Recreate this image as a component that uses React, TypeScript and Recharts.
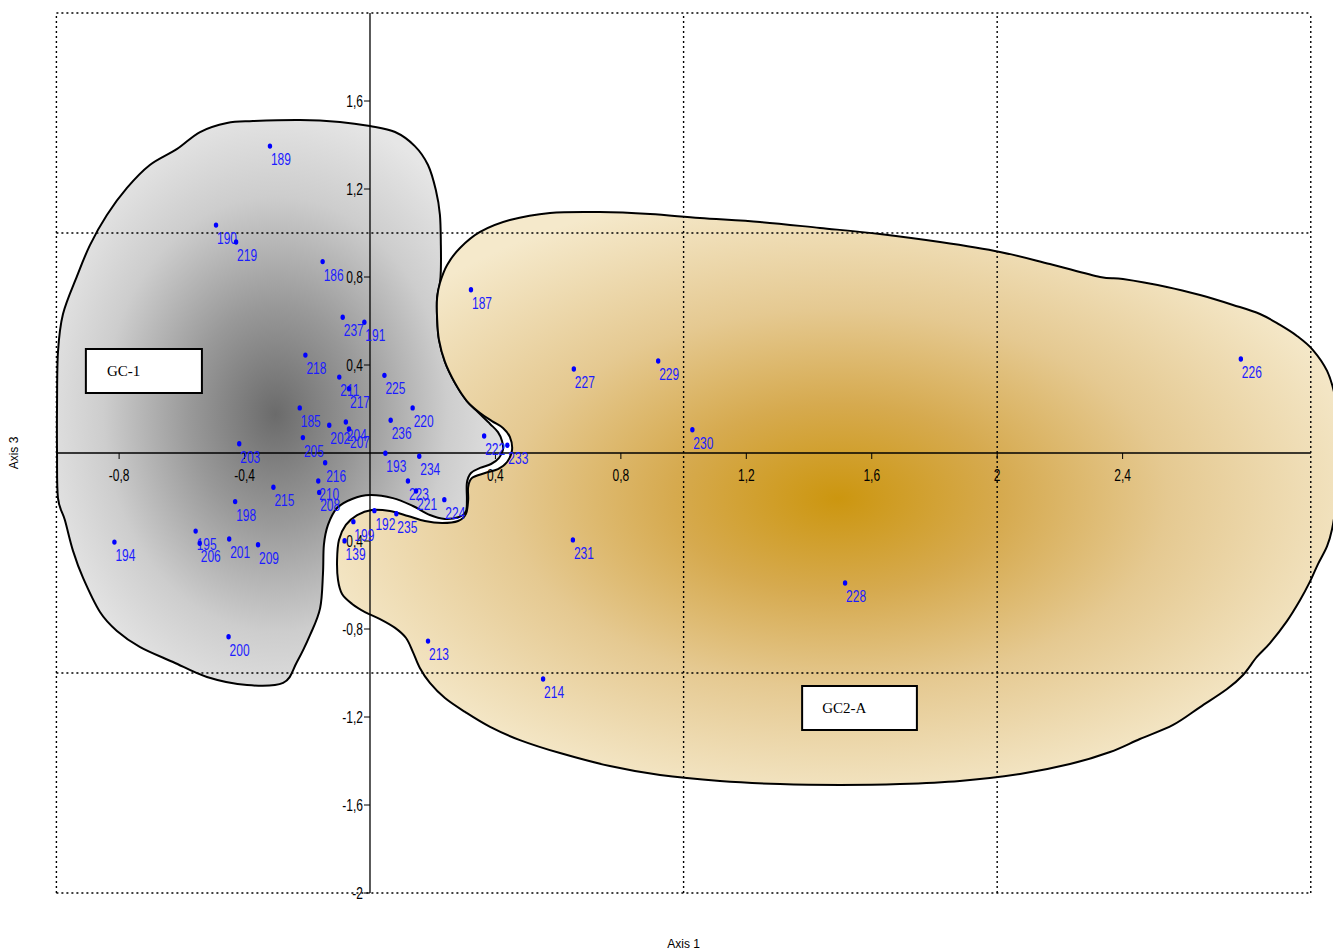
import { ScatterChart, Scatter, XAxis, YAxis, ReferenceLine, ReferenceArea, Label } from 'recharts';

// sample points (Axis 1 / Axis 3 scores)
const pointIds = ['189', '190', '219', '186', '187', '237', '191', '218', '211', '217', '225', '185', '220', '236', '202', '204', '207', '205', '203', '193', '234', '222', '233', '216', '210', '208', '215', '223', '221', '224', '198', '192', '235', '199', '195', '201', '139', '206', '194', '209', '231', '227', '229', '230', '226', '228', '213', '214', '200'];
const axis1 = [-0.319, -0.491, -0.427, -0.151, 0.322, -0.087, -0.018, -0.206, -0.098, -0.067, 0.046, -0.224, 0.136, 0.066, -0.13, -0.077, -0.067, -0.214, -0.417, 0.049, 0.157, 0.364, 0.438, -0.143, -0.165, -0.162, -0.308, 0.121, 0.147, 0.237, -0.43, 0.014, 0.084, -0.053, -0.556, -0.449, -0.081, -0.543, -0.815, -0.357, 0.647, 0.65, 0.919, 1.028, 2.777, 1.515, 0.185, 0.552, -0.451];
const axis3 = [1.395, 1.036, 0.959, 0.87, 0.742, 0.617, 0.594, 0.445, 0.345, 0.292, 0.353, 0.205, 0.205, 0.149, 0.126, 0.141, 0.109, 0.07, 0.042, -0.001, -0.015, 0.077, 0.035, -0.044, -0.127, -0.179, -0.156, -0.127, -0.173, -0.212, -0.221, -0.262, -0.276, -0.312, -0.355, -0.391, -0.399, -0.41, -0.405, -0.417, -0.395, 0.382, 0.418, 0.106, 0.427, -0.591, -0.855, -1.027, -0.835];

// group outlines
const gc1Axis1 = [-0.456, -0.373, -0.223, -0.096, 0, 0.08, 0.143, 0.185, 0.21, 0.223, 0.226, 0.226, 0.223, 0.214, 0.214, 0.22, 0.239, 0.271, 0.309, 0.344, 0.383, 0.408, 0.421, 0.424, 0.411, 0.386, 0.351, 0.322, 0.309, 0.309, 0.306, 0.284, 0.239, 0.191, 0.137, 0.073, 0, -0.057, -0.105, -0.134, -0.147, -0.15, -0.159, -0.191, -0.233, -0.277, -0.392, -0.52, -0.628, -0.733, -0.807, -0.861, -0.915, -0.947, -0.973, -0.995, -0.998, -0.998, -0.995, -0.979, -0.934, -0.893, -0.839, -0.775, -0.702, -0.615, -0.542];
const gc1Axis3 = [1.5, 1.509, 1.514, 1.505, 1.486, 1.459, 1.395, 1.309, 1.195, 1.082, 0.945, 0.832, 0.773, 0.705, 0.614, 0.514, 0.414, 0.318, 0.236, 0.186, 0.132, 0.095, 0.055, 0.014, -0.023, -0.05, -0.068, -0.091, -0.136, -0.214, -0.264, -0.291, -0.3, -0.282, -0.241, -0.205, -0.191, -0.209, -0.25, -0.327, -0.418, -0.55, -0.705, -0.827, -0.95, -1.045, -1.055, -1.018, -0.95, -0.882, -0.809, -0.723, -0.568, -0.445, -0.305, -0.205, 0.005, 0.214, 0.459, 0.632, 0.805, 0.945, 1.082, 1.205, 1.309, 1.382, 1.459];
const gc2Axis1 = [0.223, 0.246, 0.287, 0.351, 0.446, 0.574, 0.733, 0.893, 1.052, 1.244, 1.435, 1.626, 1.818, 2.009, 2.168, 2.328, 2.401, 2.541, 2.647, 2.752, 2.838, 2.902, 2.956, 3.007, 3.052, 3.077, 3.087, 3.087, 3.08, 3.068, 3.052, 3.023, 2.997, 2.966, 2.924, 2.87, 2.828, 2.784, 2.733, 2.647, 2.561, 2.455, 2.36, 2.232, 2.073, 1.881, 1.69, 1.499, 1.307, 1.116, 0.925, 0.765, 0.606, 0.478, 0.383, 0.303, 0.239, 0.191, 0.159, 0.137, 0.115, 0.08, 0.032, -0.016, -0.057, -0.089, -0.102, -0.105, -0.099, -0.077, -0.041, 0.006, 0.064, 0.121, 0.175, 0.23, 0.281, 0.306, 0.313, 0.313, 0.325, 0.367, 0.408, 0.437, 0.453, 0.446, 0.424, 0.389, 0.351, 0.309, 0.271, 0.239, 0.22, 0.214, 0.214];
const gc2Axis3 = [0.773, 0.855, 0.932, 1.005, 1.059, 1.091, 1.095, 1.086, 1.068, 1.05, 1.023, 0.995, 0.959, 0.914, 0.859, 0.8, 0.791, 0.755, 0.718, 0.673, 0.632, 0.582, 0.532, 0.468, 0.373, 0.259, 0.145, -0.082, -0.232, -0.345, -0.423, -0.505, -0.586, -0.668, -0.764, -0.864, -0.927, -1.009, -1.073, -1.155, -1.236, -1.3, -1.359, -1.414, -1.459, -1.491, -1.505, -1.509, -1.505, -1.491, -1.464, -1.423, -1.364, -1.305, -1.245, -1.177, -1.114, -1.045, -0.977, -0.905, -0.841, -0.795, -0.755, -0.723, -0.686, -0.641, -0.577, -0.486, -0.395, -0.327, -0.282, -0.259, -0.264, -0.286, -0.309, -0.318, -0.309, -0.277, -0.214, -0.155, -0.114, -0.091, -0.073, -0.041, 0.014, 0.073, 0.114, 0.145, 0.182, 0.236, 0.318, 0.414, 0.514, 0.614, 0.705];

// axes through the origin
const xTicks = [-0.8, -0.4, 0.4, 0.8, 1.2, 1.6, 2, 2.4];
const xTickLabels = ['-0,8', '-0,4', '0,4', '0,8', '1,2', '1,6', '2', '2,4'];
const yTicks = [1.6, 1.2, 0.8, 0.4, -0.4, -0.8, -1.2, -1.6, -2];
const yTickLabels = ['1,6', '1,2', '0,8', '0,4', '-0,4', '-0,8', '-1,2', '-1,6', '-2'];
const gridX = [-1, 1, 2, 3];
const gridY = [2, 1, -1, -2];

const sans = "'Liberation Sans', Arial, sans-serif";

const points = pointIds.map((id, i) => ({ id, x: axis1[i], y: axis3[i] }));
const gc1 = gc1Axis1.map((x, i) => ({ x, y: gc1Axis3[i] }));
const gc2 = gc2Axis1.map((x, i) => ({ x, y: gc2Axis3[i] }));
const xTickData = xTicks.map((x, i) => ({ x, y: 0, label: xTickLabels[i] }));
const yTickData = yTicks.map((y, i) => ({ x: 0, y, label: yTickLabels[i] }));

// smooth closed outline through the scaled points (catmull-rom)
function closedPath(pts: { x: number; y: number }[]) {
  const n = pts.length;
  let d = `M${pts[0].x},${pts[0].y}`;
  for (let i = 0; i < n; i++) {
    const p0 = pts[(i - 1 + n) % n];
    const p1 = pts[i];
    const p2 = pts[(i + 1) % n];
    const p3 = pts[(i + 2) % n];
    const c1x = p1.x + (p2.x - p0.x) / 6;
    const c1y = p1.y + (p2.y - p0.y) / 6;
    const c2x = p2.x - (p3.x - p1.x) / 6;
    const c2y = p2.y - (p3.y - p1.y) / 6;
    d += ` C${c1x},${c1y} ${c2x},${c2y} ${p2.x},${p2.y}`;
  }
  return d + 'Z';
}

// narrow (condensed) text, like the Arial Narrow of the original
function NarrowText({ x, y, anchor = 'start', fill = '#000', children }: any) {
  return (
    <text transform={`translate(${x} ${y}) scale(0.75 1)`} textAnchor={anchor} fontSize={16} fontFamily={sans} fill={fill}>
      {children}
    </text>
  );
}

const noShape = () => <g />;

const blobLine = (fill: string) => (props: any) => (
  <path d={closedPath(props.points)} fill={fill} stroke="#000" strokeWidth={2} strokeLinejoin="round" />
);

const XTickMark = (p: any) => (
  <g>
    <line x1={p.cx} y1={p.cy} x2={p.cx} y2={p.cy + 6} stroke="#000" strokeWidth={1} />
    <NarrowText x={p.cx} y={p.cy + 28} anchor="middle">{p.payload.label}</NarrowText>
  </g>
);

const YTickMark = (p: any) => (
  <g>
    <line x1={p.cx - 6} y1={p.cy} x2={p.cx} y2={p.cy} stroke="#000" strokeWidth={1} />
    <NarrowText x={p.cx - 7} y={p.cy + 6} anchor="end">{p.payload.label}</NarrowText>
  </g>
);

const PointMark = (p: any) => (
  <g>
    <ellipse cx={p.cx} cy={p.cy} rx={2.2} ry={2.7} fill="#0000ff" />
    <NarrowText x={p.cx + 1} y={p.cy + 19} fill="#1c1cff">{p.payload.id}</NarrowText>
  </g>
);

export default function App() {
  return (
    <ScatterChart width={1333} height={944} margin={{ top: 5, right: 2, bottom: 4, left: 0 }}>
      <defs>
        <radialGradient id="gc1Fill" cx="0.49" cy="0.52" r="0.55">
          <stop offset="0" stopColor="#6b6b6b" />
          <stop offset="0.35" stopColor="#999999" />
          <stop offset="0.7" stopColor="#cdcdcd" />
          <stop offset="1" stopColor="#e6e6e6" />
        </radialGradient>
        <radialGradient id="gc2Fill" cx="0.5" cy="0.5" r="0.55">
          <stop offset="0" stopColor="#cc960f" />
          <stop offset="0.3" stopColor="#d6aa4f" />
          <stop offset="0.6" stopColor="#e5c991" />
          <stop offset="1" stopColor="#f5e9cb" />
        </radialGradient>
      </defs>
      <XAxis type="number" dataKey="x" domain={[-1, 3.09]} ticks={xTicks} tick={false} tickLine={false} axisLine={false} height={55}>
        <Label value="Axis 1" position="insideBottom" offset={0} dx={-14} fontSize={12} fontFamily={sans} fill="#000" />
      </XAxis>
      <YAxis type="number" dataKey="y" domain={[-2, 2]} ticks={yTicks} tick={false} tickLine={false} axisLine={false} width={48.4}>
        <Label value="Axis 3" angle={-90} position="insideLeft" offset={6} fontSize={12} fontFamily={sans} fill="#000" style={{ textAnchor: 'middle' }} />
      </YAxis>

      <Scatter data={gc1} isAnimationActive={false} shape={noShape} line={blobLine('url(#gc1Fill)')} lineType="joint" />
      <Scatter data={gc2} isAnimationActive={false} shape={noShape} line={blobLine('url(#gc2Fill)')} lineType="joint" />

      {gridX.map((v) => (
        <ReferenceLine key={'gx' + v} x={v} stroke="#000" strokeWidth={1.4} strokeDasharray="2 3" zIndex={650} />
      ))}
      {gridY.map((v) => (
        <ReferenceLine key={'gy' + v} segment={[{ x: -1, y: v }, { x: 3, y: v }]} stroke="#000" strokeWidth={1.4} strokeDasharray="2 3" zIndex={650} />
      ))}
      <ReferenceLine segment={[{ x: -1, y: 0 }, { x: 3, y: 0 }]} stroke="#000" strokeWidth={1.5} zIndex={660} />
      <ReferenceLine x={0} stroke="#000" strokeWidth={1.3} zIndex={660} />

      <ReferenceArea x1={-0.906} x2={-0.536} y1={0.273} y2={0.473} fill="#fff" fillOpacity={1} stroke="#000" strokeWidth={2} zIndex={670}
        label={{ value: 'GC-1', position: 'insideLeft', offset: 21, fontSize: 15, fontFamily: "'Liberation Serif', serif", fill: '#000' }} />
      <ReferenceArea x1={1.378} x2={1.744} y1={-1.259} y2={-1.059} fill="#fff" fillOpacity={1} stroke="#000" strokeWidth={2} zIndex={670}
        label={{ value: 'GC2-A', position: 'insideLeft', offset: 20, fontSize: 15, fontFamily: "'Liberation Serif', serif", fill: '#000' }} />

      <Scatter data={xTickData} isAnimationActive={false} shape={XTickMark} zIndex={700} />
      <Scatter data={yTickData} isAnimationActive={false} shape={YTickMark} zIndex={700} />
      <Scatter data={points} isAnimationActive={false} shape={PointMark} zIndex={800} />
    </ScatterChart>
  );
}
